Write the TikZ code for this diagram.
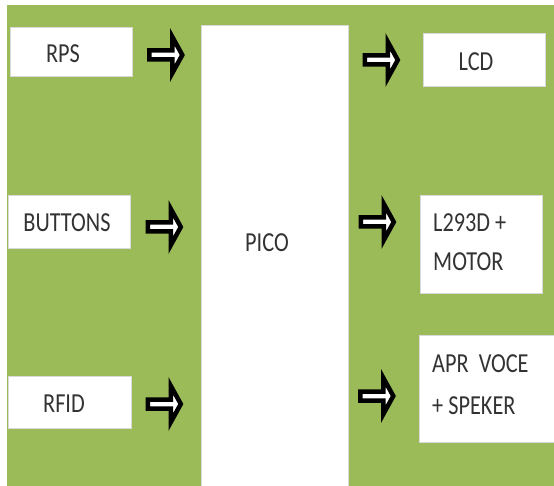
\documentclass[tikz,border=0pt]{standalone}
\usepackage{fontspec}
\setmainfont[FakeStretch=0.81]{Carlito}
\definecolor{bggreen}{HTML}{9BBB59}
\definecolor{txtgray}{HTML}{333333}
\begin{document}
\begin{tikzpicture}[x=1pt,y=-1pt,
  box/.style={draw=black!15,line width=0.8pt,fill=white},
  lbl/.style={text=txtgray,font=\fontsize{27.5}{39}\selectfont,inner sep=0pt},
  barrow/.pic={\draw[line width=4.5pt,fill=white,line join=miter]
     (-16.75,-4.5) -- (6.25,-4.5) -- (6.25,-18.25) -- (16.3,0) -- (6.25,18.25) -- (6.25,4.5) -- (-16.75,4.5) -- cycle;}]
\useasboundingbox (0,0) rectangle (554,486);
\fill[bggreen] (7,5) rectangle (554,486);
% boxes
\draw[box] (10,27) rectangle (132,76);
\draw[box] (8,195) rectangle (130,248);
\draw[box] (8,376) rectangle (131,428);
\draw[box] (201,25) rectangle (348,490);
\draw[box] (423,33) rectangle (545,86);
\draw[box] (420,195) rectangle (542,293);
\draw[box] (419,335) rectangle (556,442);
% labels
\node[lbl] (rps) at (63,54) {RPS};
\node[lbl] (buttons) at (67,223) {BUTTONS};
\node[lbl] (rfid) at (64,404) {RFID};
\node[lbl] (pico) at (267,243) {PICO};
\node[lbl] (lcd) at (476,62) {LCD};
\node[lbl,anchor=west] (l293a) at (433,223) {L293D +};
\node[lbl,anchor=west] (l293b) at (433,262) {MOTOR};
\node[lbl,anchor=west] (apra) at (432,364) {APR\ \ VOCE};
\node[lbl,anchor=west] (aprb) at (432,406) {+ SPEKER};
% arrows
\pic at (166,55) {barrow};
\pic at (164.5,227) {barrow};
\pic at (164.5,404) {barrow};
\pic at (381.5,60) {barrow};
\pic at (377.5,222) {barrow};
\pic at (377,396) {barrow};
\end{tikzpicture}
\end{document}
